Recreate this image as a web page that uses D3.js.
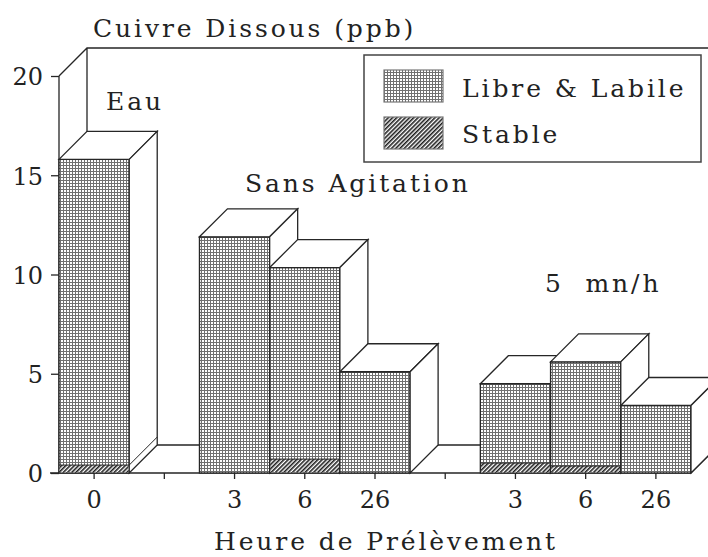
<!DOCTYPE html>
<html>
<head>
<meta charset="utf-8">
<script src="https://cdn.jsdelivr.net/npm/d3@7"></script>
<style>
  body { margin: 0; background: #fff; }
  svg { display: block; }
  text { font-family: "DejaVu Serif", serif; fill: #222; }
  .lbl { font-size: 25px; letter-spacing: 2.9px; }
  .num { font-size: 24px; }
</style>
</head>
<body>
<div id="chart"></div>
<script>
// donnees
const slots = ["t0", "gap1", "sa3", "sa6", "sa26", "gap2", "ag3", "ag6", "ag26"];
const tickLabels = ["0", "", "3", "6", "26", "", "3", "6", "26"];
const libre = [15.4, null, 11.9, 9.65, 5.1, null, 4.0, 5.25, 3.4];
const stable = [0.4, null, 0, 0.7, 0, null, 0.5, 0.35, 0];
const yTicks = [0, 5, 10, 15, 20];
const legendLabels = ["Libre & Labile", "Stable"];

const width = 708, height = 557;
const dx = 28, dy = 28;   // profondeur 3D
const ink = "#262626";

const svg = d3.select("#chart").append("svg")
  .attr("width", width).attr("height", height);

// motifs
const defs = svg.append("defs");
const dots = defs.append("pattern").attr("id", "dots")
  .attr("patternUnits", "userSpaceOnUse").attr("width", 3).attr("height", 3);
dots.append("rect").attr("width", 3).attr("height", 3).attr("fill", "#fff");
dots.append("path").attr("d", "M0,0.5H3M0.5,0V3")
  .attr("stroke", "#707070").attr("stroke-width", 1);

const hatch = defs.append("pattern").attr("id", "hatch")
  .attr("patternUnits", "userSpaceOnUse").attr("width", 3).attr("height", 3)
  .attr("patternTransform", "rotate(45)");
hatch.append("rect").attr("width", 3).attr("height", 3).attr("fill", "#fff");
hatch.append("line").attr("x1", 0.8).attr("y1", 0).attr("x2", 0.8).attr("y2", 3)
  .attr("stroke", "#1e1e1e").attr("stroke-width", 1.6);

// echelles
const x = d3.scaleBand().domain(slots).range([59, 691]).padding(0);
const y = d3.scaleLinear().domain([0, 20]).range([473, 76]);
const bw = x.bandwidth();
const xL = x.range()[0], xR = x.range()[1];

const g = svg.append("g").attr("stroke", ink).attr("stroke-width", 1.3).attr("fill", "none");

// murs du fond
g.append("path").attr("d",
  `M${xL},${y(20)}L${xL + dx},${y(20) - dy}H${width + dx}` +
  `M${xL + dx},${y(20) - dy}V${y(0) - dy}H${xR + dx}` +
  `M${xR},${y(0)}L${xR + dx},${y(0) - dy}`);

// axes
g.append("path").attr("d", `M${xL},${y(0)}V${y(20)}M${xL - 9},${y(0)}H${xR}`);

const yAxis = svg.append("g").attr("transform", `translate(${xL},0)`)
  .call(d3.axisLeft(y).tickValues(yTicks).tickSize(8).tickPadding(8));
yAxis.select(".domain").remove();
yAxis.selectAll("line").attr("stroke", ink).attr("stroke-width", 1.3);
yAxis.selectAll("text").attr("class", "num").attr("font-family", null)
  .attr("font-size", null).attr("dy", "0.37em").attr("x", -16);

const xAxis = svg.append("g").attr("transform", `translate(0,${y(0)})`)
  .call(d3.axisBottom(x).tickSize(6).tickSizeOuter(0)
    .tickFormat((d, i) => tickLabels[i]));
xAxis.select(".domain").remove();
xAxis.selectAll("line").attr("stroke", ink).attr("stroke-width", 1.3);
xAxis.selectAll("text").attr("class", "num").attr("font-family", null)
  .attr("font-size", null).attr("dy", null).attr("y", 35);

// barres 3D
slots.forEach((s, i) => {
  if (libre[i] == null) return;
  const total = libre[i] + stable[i];
  const x0 = x(s), x1 = x0 + bw;
  const yT = y(total), yB = y(0), yS = y(stable[i]);
  const bar = g.append("g");
  bar.append("rect").attr("x", x0).attr("y", yT)
    .attr("width", bw).attr("height", yB - yT).attr("fill", "url(#dots)");
  bar.append("path").attr("fill", "#fff")
    .attr("d", `M${x0},${yT}L${x0 + dx},${yT - dy}H${x1 + dx}L${x1},${yT}Z`);
  bar.append("path").attr("fill", "#fff")
    .attr("d", `M${x1},${yT}L${x1 + dx},${yT - dy}V${yB - dy}L${x1},${yB}Z`);
  if (stable[i] > 0) {
    bar.append("rect").attr("x", x0 + 0.7).attr("y", yS)
      .attr("width", bw - 1.4).attr("height", yB - yS - 0.7)
      .attr("fill", "url(#hatch)").attr("stroke", "none");
    bar.append("path").attr("stroke-width", 1)
      .attr("d", `M${x0},${yS}H${x1}L${x1 + dx},${yS - dy}`);
  }
});

// legende
const leg = svg.append("g");
leg.append("rect").attr("x", 364).attr("y", 55).attr("width", 337).attr("height", 107)
  .attr("fill", "#fff").attr("stroke", "#444").attr("stroke-width", 1.5);
["url(#dots)", "url(#hatch)"].forEach((f, i) => {
  leg.append("rect").attr("x", 384).attr("y", 70 + i * 47).attr("width", 59).attr("height", 32)
    .attr("fill", f).attr("stroke", "#777").attr("stroke-width", 1.2);
  leg.append("text").attr("class", "lbl").attr("x", 462).attr("y", 97 + i * 46)
    .text(legendLabels[i]);
});

// textes
svg.append("text").attr("class", "lbl").attr("x", 93).attr("y", 37).text("Cuivre Dissous (ppb)");
svg.append("text").attr("class", "lbl").attr("x", 106).attr("y", 110).text("Eau");
svg.append("text").attr("class", "lbl").attr("x", 245).attr("y", 192).text("Sans Agitation");
svg.append("text").attr("class", "lbl").attr("x", 545).attr("y", 292)
  .attr("xml:space", "preserve").text("5  mn/h");
svg.append("text").attr("class", "lbl").attr("x", 386).attr("y", 550)
  .attr("text-anchor", "middle").text("Heure de Prélèvement");
</script>
</body>
</html>
